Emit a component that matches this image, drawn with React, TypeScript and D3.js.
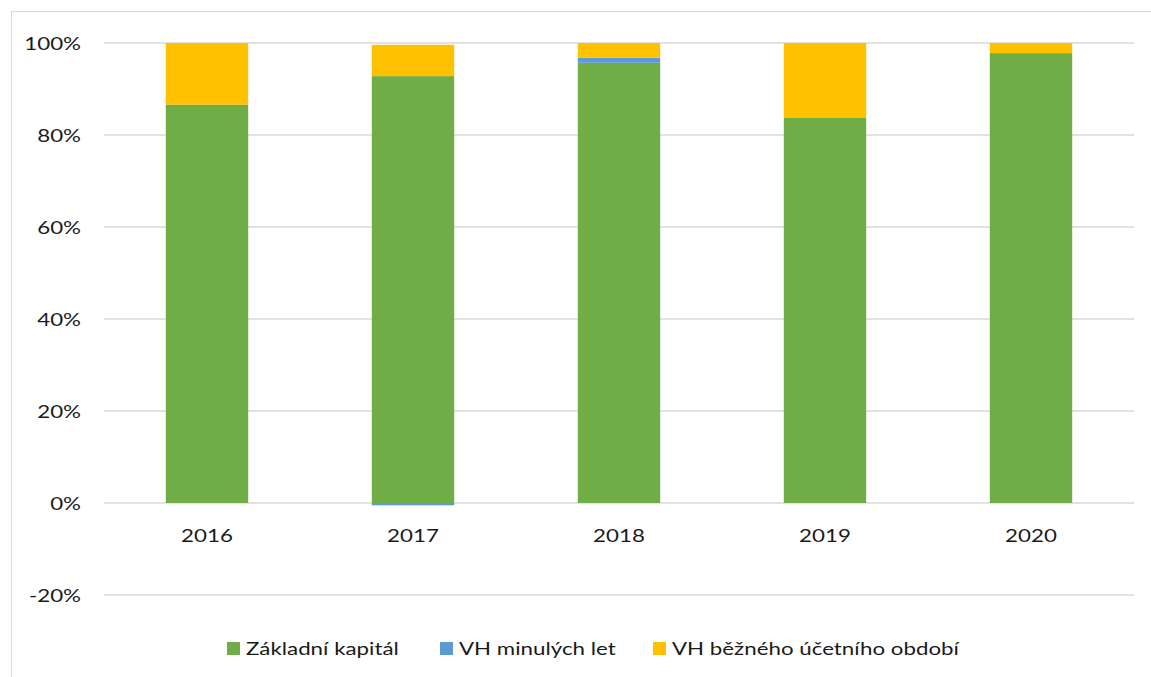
import React from "react";
import * as d3 from "d3";

const years = ["2016", "2017", "2018", "2019", "2020"];
const zakladniKapital = [86.6, 92.8, 95.7, 83.7, 97.8];
const vhMinulychLet = [0, -0.5, 1.1, 0, 0];
const vhBezneho = [13.4, 6.8, 3.2, 16.3, 2.2];
const yTicks = [-20, 0, 20, 40, 60, 80, 100];

const seriesNames = ["Základní kapitál", "VH minulých let", "VH běžného účetního období"];
const seriesColors = ["#70ad47", "#5b9bd5", "#ffc000"];

const W = 1151;
const H = 677;
const FONT = "Lato, 'Open Sans', sans-serif";
const SX = 1.24;

function T({ x, y, anchor, children }: any) {
  return (
    <text
      transform={`translate(${x},${y}) scale(${SX},1)`}
      textAnchor={anchor}
      fontSize={18}
      fill="#1a1a1a"
    >
      {children}
    </text>
  );
}

export default function App() {
  const x = d3.scaleBand().domain(years).range([104, 1134]).paddingInner(0.6).paddingOuter(0.3);
  const y = d3.scaleLinear().domain([-20, 100]).range([595, 43]);
  const seriesData = [zakladniKapital, vhMinulychLet, vhBezneho];

  const rects: any[] = [];
  years.forEach((yr, i) => {
    let pos = 0;
    let neg = 0;
    seriesData.forEach((s, si) => {
      const v = s[i];
      if (v === 0) return;
      let y0, y1;
      if (v > 0) {
        y0 = pos;
        y1 = pos + v;
        pos = y1;
      } else {
        y0 = neg + v;
        y1 = neg;
        neg = y0;
      }
      rects.push(
        <rect
          key={yr + si}
          x={x(yr)}
          width={x.bandwidth()}
          y={y(y1)}
          height={y(y0) - y(y1)}
          fill={seriesColors[si]}
        />
      );
    });
  });

  const legendX = [227, 440, 653];

  return (
    <svg
      width={W}
      height={H}
      style={{ position: "fixed", left: 0, top: 0, background: "#fff" }}
      fontFamily={FONT}
    >
      <rect x={11.5} y={11.5} width={W} height={H} fill="#fff" stroke="#d9d9d9" strokeWidth={1} />
      {yTicks.map((t) => (
        <g key={t}>
          <line x1={104} x2={1134} y1={y(t)} y2={y(t)} stroke="#d9d9d9" strokeWidth={1.3} />
          <T x={81} y={y(t) + 6.5} anchor="end">{t + "%"}</T>
        </g>
      ))}
      {rects}
      {years.map((yr) => (
        <T key={yr} x={x(yr)! + x.bandwidth() / 2} y={542} anchor="middle">{yr}</T>
      ))}
      {seriesNames.map((n, i) => (
        <g key={n}>
          <rect x={legendX[i]} y={642} width={13} height={13} fill={seriesColors[i]} />
          <T x={legendX[i] + 19} y={655} anchor="start">{n}</T>
        </g>
      ))}
    </svg>
  );
}
